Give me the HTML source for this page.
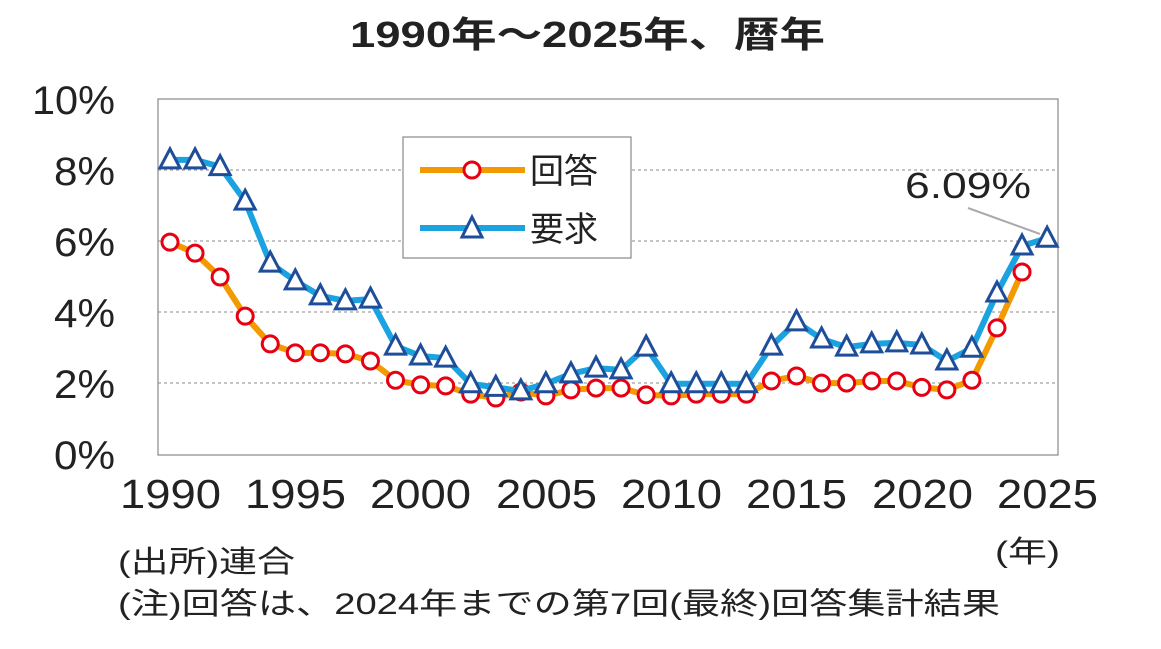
<!DOCTYPE html>
<html><head><meta charset="utf-8"><style>
body{margin:0;background:#fff;}
text{font-family:"Liberation Sans","Noto Sans CJK JP",sans-serif;fill:#222;}
</style></head><body>
<svg width="1161" height="644" xmlns="http://www.w3.org/2000/svg">
<text x="350" y="47" font-size="36" font-weight="bold" textLength="475" lengthAdjust="spacingAndGlyphs" font-family="'Noto Sans CJK JP',sans-serif">1990年～2025年、暦年</text>
<rect x="158" y="99" width="900" height="356" fill="#fff" stroke="#888" stroke-width="1.2"/>
<g stroke="#888" stroke-dasharray="3,3" stroke-width="1">
<line x1="158" y1="170" x2="1058" y2="170"/><line x1="158" y1="241" x2="1058" y2="241"/>
<line x1="158" y1="312" x2="1058" y2="312"/><line x1="158" y1="383" x2="1058" y2="383"/>
</g>
<g font-size="40" fill="#333">
<text x="32" y="114" textLength="83" lengthAdjust="spacingAndGlyphs">10%</text>
<text x="54" y="185" textLength="61" lengthAdjust="spacingAndGlyphs">8%</text>
<text x="54" y="256" textLength="61" lengthAdjust="spacingAndGlyphs">6%</text>
<text x="54" y="327" textLength="61" lengthAdjust="spacingAndGlyphs">4%</text>
<text x="54" y="398" textLength="61" lengthAdjust="spacingAndGlyphs">2%</text>
<text x="54" y="469" textLength="61" lengthAdjust="spacingAndGlyphs">0%</text>
</g>
<g font-size="41">
<text x="120" y="508" textLength="101" lengthAdjust="spacingAndGlyphs">1990</text>
<text x="245" y="508" textLength="101" lengthAdjust="spacingAndGlyphs">1995</text>
<text x="370" y="508" textLength="101" lengthAdjust="spacingAndGlyphs">2000</text>
<text x="496" y="508" textLength="101" lengthAdjust="spacingAndGlyphs">2005</text>
<text x="621" y="508" textLength="101" lengthAdjust="spacingAndGlyphs">2010</text>
<text x="746" y="508" textLength="101" lengthAdjust="spacingAndGlyphs">2015</text>
<text x="872" y="508" textLength="101" lengthAdjust="spacingAndGlyphs">2020</text>
<text x="997" y="508" textLength="101" lengthAdjust="spacingAndGlyphs">2025</text>
</g>
<text x="995" y="562" font-size="30" textLength="65" lengthAdjust="spacingAndGlyphs" font-family="'Noto Sans CJK JP',sans-serif">(年)</text>
<text x="118" y="572" font-size="30" textLength="177" lengthAdjust="spacingAndGlyphs" font-family="'Noto Sans CJK JP',sans-serif">(出所)連合</text>
<text x="118" y="614" font-size="30" textLength="882" lengthAdjust="spacingAndGlyphs" font-family="'Noto Sans CJK JP',sans-serif">(注)回答は、2024年までの第7回(最終)回答集計結果</text>
<line x1="968" y1="208" x2="1040" y2="234" stroke="#aaa" stroke-width="2"/>
<text x="905" y="198" font-size="36" textLength="126" lengthAdjust="spacingAndGlyphs">6.09%</text>
<g id="chart"></g>
<rect x="403" y="137" width="228" height="121" fill="#fff" stroke="#888" stroke-width="1.2"/>
<line x1="420" y1="170" x2="525" y2="170" stroke="#F39A00" stroke-width="6"/>
<circle cx="472" cy="170" r="8" fill="#fff" stroke="#E60012" stroke-width="3"/>
<text x="530" y="183" font-size="34" font-family="'Noto Sans CJK JP',sans-serif">回答</text>
<line x1="420" y1="228" x2="525" y2="228" stroke="#1AA3E0" stroke-width="6"/>
<polygon points="472,217 482,237 462,237" fill="#fff" stroke="#1E4E9A" stroke-width="3"/>
<text x="530" y="241" font-size="34" font-family="'Noto Sans CJK JP',sans-serif">要求</text>
</svg>
<script>
const d=[8.29,8.29,8.1,7.13,5.39,4.89,4.47,4.33,4.38,3.06,2.78,2.72,2.0,1.9,1.8,2.0,2.28,2.44,2.39,3.03,2.0,2.0,2.0,2.0,3.06,3.74,3.26,3.03,3.12,3.15,3.09,2.64,3.0,4.55,5.87,6.09];
const r=[5.98,5.67,5.0,3.9,3.12,2.87,2.87,2.84,2.64,2.1,1.97,1.94,1.71,1.6,1.77,1.66,1.83,1.88,1.88,1.69,1.66,1.71,1.71,1.71,2.08,2.22,2.02,2.02,2.08,2.08,1.9,1.83,2.1,3.57,5.14];
const X=i=>170+i*25.06,Y=v=>455-v*35.6;
let s='';
s+=`<polyline points="${r.map((v,i)=>X(i)+','+Y(v)).join(' ')}" fill="none" stroke="#F39A00" stroke-width="6" stroke-linejoin="round"/>`;
r.forEach((v,i)=>s+=`<circle cx="${X(i)}" cy="${Y(v)}" r="8" fill="#fff" stroke="#E60012" stroke-width="3"/>`);
s+=`<polyline points="${d.map((v,i)=>X(i)+','+Y(v)).join(' ')}" fill="none" stroke="#1AA3E0" stroke-width="6" stroke-linejoin="round"/>`;
d.forEach((v,i)=>{const x=X(i),y=Y(v);s+=`<polygon points="${x},${y-11} ${x+10},${y+8} ${x-10},${y+8}" fill="#fff" stroke="#1E4E9A" stroke-width="3"/>`;});
document.getElementById('chart').innerHTML=s;
</script>
</body></html>
